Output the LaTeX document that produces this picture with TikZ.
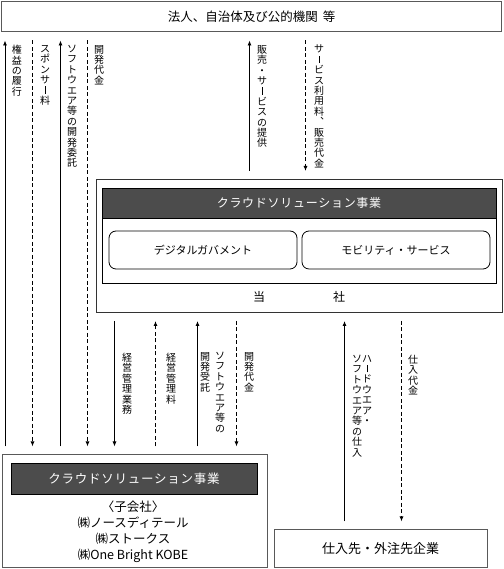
\documentclass[tikz,border=0pt]{standalone}
\usepackage{fontspec}
\setmainfont{Noto Sans CJK JP}
\newfontfamily\hjp[LetterSpace=6]{Noto Sans CJK JP}
\usetikzlibrary{arrows.meta}

% vertical (tategaki) text: one character per line
\makeatletter
\def\vt@end{\vt@end}
\def\vt@char#1{\hbox to 1em{\hss
  \ifx#1ー\rule[0.02em]{0.07em}{0.76em}\else #1\fi\hss}}
\def\vt@loop#1{\ifx#1\vt@end\else\vt@char{#1}\expandafter\vt@loop\fi}
\newcommand{\vtext}[1]{\vbox{\baselineskip=10.4pt\lineskiplimit=-100pt\lineskip=0pt
  \vt@loop#1\vt@end}}
\makeatother

\begin{document}
\begin{tikzpicture}[x=1pt,y=1pt,
  frame/.style={draw=black!65,line width=1pt,inner sep=0pt},
  header/.style={draw=black,fill=black!70,line width=0.8pt,text=white,inner sep=0pt,
    font=\hjp\fontsize{12}{14}\selectfont},
  pill/.style={draw=black,line width=0.8pt,rounded corners=7pt,minimum width=188pt,
    minimum height=38pt,inner sep=0pt,font=\fontsize{11}{13}\selectfont},
  flow/.style={line width=0.8pt,-{Latex[length=5pt,width=4pt]},shorten >=8pt,shorten <=8pt},
  money/.style={flow,line width=1.1pt,dash pattern=on 4pt off 2.5pt},
  vlabel/.style={anchor=north,inner sep=0pt,font=\fontsize{10}{10.4}\selectfont}]
\useasboundingbox (0,0) rectangle (503,569);

% customers
\node[frame,minimum width=500pt,minimum height=30pt,font=\fontsize{12.5}{15}\selectfont]
  (client) at (251.5,552) {法人、自治体及び公的機関\hspace{5pt}等};

% our company
\node[frame,draw=black!80,minimum width=406pt,minimum height=133pt] (company) at (299,323) {};
\node[draw=black,line width=0.8pt,minimum width=394pt,minimum height=95pt,inner sep=0pt]
  (unit) at (299,333.5) {};
\node[header,minimum width=394pt,minimum height=30pt] (unithead) at (299,366) {クラウドソリューション事業};
\node[pill] (govt) at (203,319) {デジタルガバメント};
\node[pill] (mobility) at (396,319) {モビリティ・サービス};
\node[font=\fontsize{12}{14}\selectfont] (self) at (299,272) {当\hspace{68pt}社};

% subsidiaries
\node[frame,minimum width=265pt,minimum height=113pt] (sub) at (134.5,57.5) {};
\node[header,minimum width=246pt,minimum height=31pt,font=\hjp\fontsize{12.5}{14}\selectfont]
  (subhead) at (134,90.5) {クラウドソリューション事業};
\node[align=center,font=\fontsize{12.5}{16}\selectfont] (members) at (133,37)
  {〈子会社〉\\㈱ノースディテール\\㈱ストークス\\㈱One Bright KOBE};

% suppliers
\node[frame,minimum width=213pt,minimum height=38pt,font=\fontsize{13}{15}\selectfont]
  (vendor) at (380.5,20) {仕入先・外注先企業};

% subsidiaries <-> customers
\draw[flow] ([xshift=3.5pt]sub.north west) -- ([xshift=3.5pt]sub.north west |- client.south);
\draw[money] ([xshift=31pt]sub.north west |- client.south) -- ([xshift=31pt]sub.north west);
\draw[flow] ([xshift=59pt]sub.north west) -- ([xshift=59pt]sub.north west |- client.south);
\draw[money] ([xshift=86pt]sub.north west |- client.south) -- ([xshift=86pt]sub.north west);

% company <-> customers
\draw[flow] ([xshift=154pt]company.north west) -- ([xshift=154pt]company.north west |- client.south);
\draw[money] ([xshift=210pt]company.north west |- client.south) -- ([xshift=210pt]company.north west);

% company <-> subsidiaries
\draw[flow] ([xshift=19pt]company.south west) -- ([xshift=19pt]company.south west |- sub.north);
\draw[money] ([xshift=60pt]company.south west |- sub.north) -- ([xshift=60pt]company.south west);
\draw[flow] ([xshift=102pt]company.south west |- sub.north) -- ([xshift=102pt]company.south west);
\draw[money] ([xshift=141pt]company.south west) -- ([xshift=141pt]company.south west |- sub.north);

% company <-> suppliers
\draw[flow] ([xshift=249pt]company.south west |- vendor.north) -- ([xshift=249pt]company.south west);
\draw[money] ([xshift=306pt]company.south west) -- ([xshift=306pt]company.south west |- vendor.north);

% labels
\node[vlabel] (rights) at (17,524) {\vtext{権益の履行}};
\node[vlabel] (sponsor) at (45,524) {\vtext{スポンサー料}};
\node[vlabel] (devorder) at (72,524) {\vtext{ソフトウエア等の開発委託}};
\node[vlabel] (devfee) at (99,524) {\vtext{開発代金}};
\node[vlabel] (service) at (262,524) {\vtext{販売・サービスの提供}};
\node[vlabel] (usage) at (319,524) {\vtext{サービス利用料︑販売代金}};
\node[vlabel] (mgmt) at (127,216) {\vtext{経営管理業務}};
\node[vlabel] (mgmtfee) at (171,216) {\vtext{経営管理料}};
\node[vlabel] (devjob) at (220,217) {\vtext{ソフトウエア等の}};
\node[vlabel] (devjobb) at (205,217) {\vtext{開発受託}};
\node[vlabel] (devpay) at (249,217) {\vtext{開発代金}};
\node[vlabel] (hard) at (367,214) {\vtext{ハードウエア・}};
\node[vlabel] (hardb) at (357,214) {\vtext{ソフトウエア等の仕入}};
\node[vlabel] (buyfee) at (413,214) {\vtext{仕入代金}};
\end{tikzpicture}
\end{document}
